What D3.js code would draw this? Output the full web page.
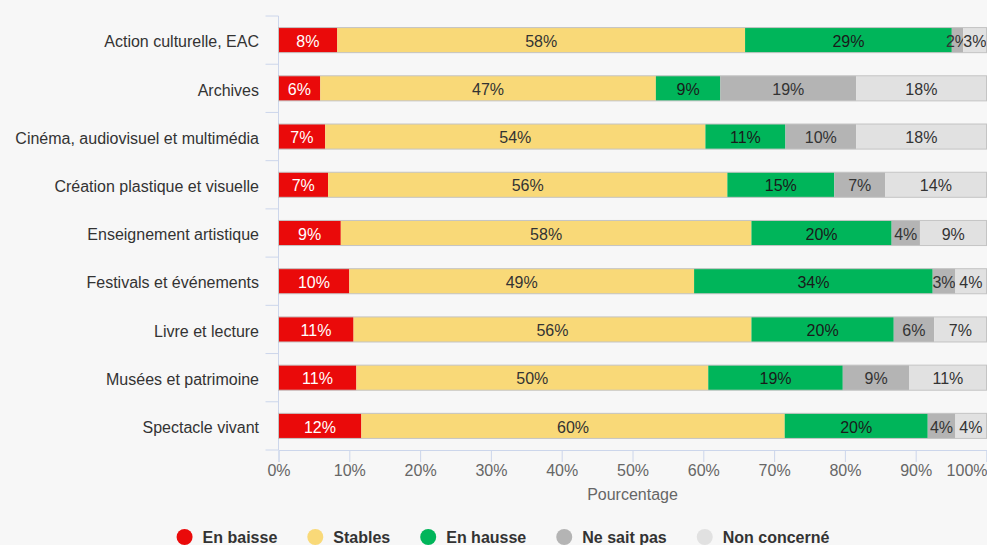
<!DOCTYPE html>
<html>
<head>
<meta charset="utf-8">
<script src="https://cdn.jsdelivr.net/npm/d3@7"></script>
<style>
  body { margin: 0; background: #f7f7f7; }
  svg { display: block; font-family: "Liberation Sans", Arial, sans-serif; }
</style>
</head>
<body>
<div id="container"></div>
<script>
const categories = [
  "Action culturelle, EAC",
  "Archives",
  "Cinéma, audiovisuel et multimédia",
  "Création plastique et visuelle",
  "Enseignement artistique",
  "Festivals et événements",
  "Livre et lecture",
  "Musées et patrimoine",
  "Spectacle vivant"
];

const seriesNames = ["En baisse", "Stables", "En hausse", "Ne sait pas", "Non concerné"];
const seriesColors = ["#ea0a0a", "#f9d978", "#00b55a", "#b4b4b4", "#e1e1e1"];
const labelColors = ["#ffffff", "#333333", "#1a1a1a", "#333333", "#333333"];

const enBaisse    = [8.3, 5.9, 6.6, 7.0, 8.8, 10.0, 10.6, 11.0, 11.7];
const stables     = [57.6, 47.4, 53.7, 56.4, 58.0, 48.7, 56.2, 49.7, 59.8];
const enHausse    = [29.2, 9.1, 11.3, 15.1, 19.8, 33.7, 20.1, 19.0, 20.2];
const neSaitPas   = [1.6, 19.2, 10.0, 7.2, 4.0, 3.2, 5.7, 9.4, 3.9];
const nonConcerne = [3.3, 18.4, 18.4, 14.3, 9.4, 4.4, 7.4, 10.9, 4.4];

const xTicks = [0, 10, 20, 30, 40, 50, 60, 70, 80, 90, 100];

const W = 987, H = 545;
const plot = { left: 278.5, right: 986.5, top: 16, bottom: 450 };

const rows = categories.map((c, i) => ({
  cat: c,
  v: [enBaisse[i], stables[i], enHausse[i], neSaitPas[i], nonConcerne[i]]
}));

const svg = d3.select("#container").append("svg")
  .attr("width", W).attr("height", H);

svg.append("rect").attr("width", W).attr("height", H).attr("fill", "#f7f7f7");

const x = d3.scaleLinear().domain([0, 100]).range([plot.left, plot.right]);
const y = d3.scaleBand().domain(categories).range([plot.top, plot.bottom])
  .paddingInner(0.48).paddingOuter(0.24);
const yStep = y.step();

// Y axis line and ticks between categories
svg.append("line")
  .attr("x1", plot.left).attr("x2", plot.left)
  .attr("y1", plot.top).attr("y2", plot.bottom)
  .attr("stroke", "#ccd6eb");
d3.range(categories.length + 1).forEach(k => {
  const yy = plot.top + k * yStep;
  svg.append("line")
    .attr("x1", plot.left - 13).attr("x2", plot.left)
    .attr("y1", yy).attr("y2", yy)
    .attr("stroke", "#ccd6eb");
});

// category labels
svg.append("g").selectAll("text")
  .data(categories)
  .join("text")
  .attr("x", 259)
  .attr("y", d => y(d) + y.bandwidth() / 2)
  .attr("dy", "0.45em")
  .attr("text-anchor", "end")
  .attr("font-size", 16)
  .attr("fill", "#333")
  .text(d => d);

// X axis
const xAxis = d3.axisBottom(x)
  .tickValues(xTicks)
  .tickFormat(d => d + "%")
  .tickSize(12)
  .tickPadding(3);

const gx = svg.append("g")
  .attr("transform", `translate(0,${plot.bottom})`)
  .call(xAxis);
gx.select(".domain").attr("stroke", "#ccd6eb");
gx.selectAll(".tick line").attr("stroke", "#ccd6eb");
gx.selectAll(".tick text")
  .attr("font-size", 16)
  .attr("font-family", "Liberation Sans, Arial, sans-serif")
  .attr("fill", "#666");
// keep the last label inside the picture
gx.selectAll(".tick text").filter(d => d === 100)
  .attr("text-anchor", "end")
  .attr("x", W - plot.right);

svg.append("text")
  .attr("x", (plot.left + plot.right) / 2)
  .attr("y", 500)
  .attr("text-anchor", "middle")
  .attr("font-size", 16)
  .attr("fill", "#666")
  .text("Pourcentage");

// bars
const rowG = svg.append("g").selectAll("g")
  .data(rows)
  .join("g")
  .attr("transform", d => `translate(0,${y(d.cat)})`);

rowG.each(function(row) {
  const g = d3.select(this);
  const total = d3.sum(row.v);
  let acc = 0;
  row.v.forEach((val, s) => {
    const p0 = acc / total * 100;
    acc += val;
    const p1 = acc / total * 100;
    g.append("rect")
      .attr("x", x(p0))
      .attr("y", 0)
      .attr("width", x(p1) - x(p0))
      .attr("height", y.bandwidth())
      .attr("fill", seriesColors[s]);
    g.append("text")
      .attr("x", (x(p0) + x(p1)) / 2)
      .attr("y", y.bandwidth() / 2)
      .attr("dy", "0.42em")
      .attr("text-anchor", "middle")
      .attr("font-size", 16)
      .attr("fill", labelColors[s])
      .text(Math.round(val / total * 100) + "%");
  });
  g.append("rect")
    .attr("x", x(0))
    .attr("y", 0)
    .attr("width", x(100) - x(0))
    .attr("height", y.bandwidth())
    .attr("fill", "none")
    .attr("stroke", "#c4c4c4");
});

// legend
const legend = svg.append("g");
const items = legend.selectAll("g")
  .data(seriesNames)
  .join("g");
items.append("circle")
  .attr("r", 8)
  .attr("cx", 8)
  .attr("cy", 0)
  .attr("fill", (d, i) => seriesColors[i]);
items.append("text")
  .attr("x", 26)
  .attr("dy", "0.35em")
  .attr("font-size", 16)
  .attr("font-weight", "bold")
  .attr("fill", "#333")
  .text(d => d);

let lx = 0;
items.each(function() {
  const g = d3.select(this);
  g.attr("transform", `translate(${lx},0)`);
  lx += 26 + g.select("text").node().getComputedTextLength() + 30;
});
const legendWidth = lx - 30;
legend.attr("transform", `translate(${503 - legendWidth / 2},537)`);
</script>
</body>
</html>
